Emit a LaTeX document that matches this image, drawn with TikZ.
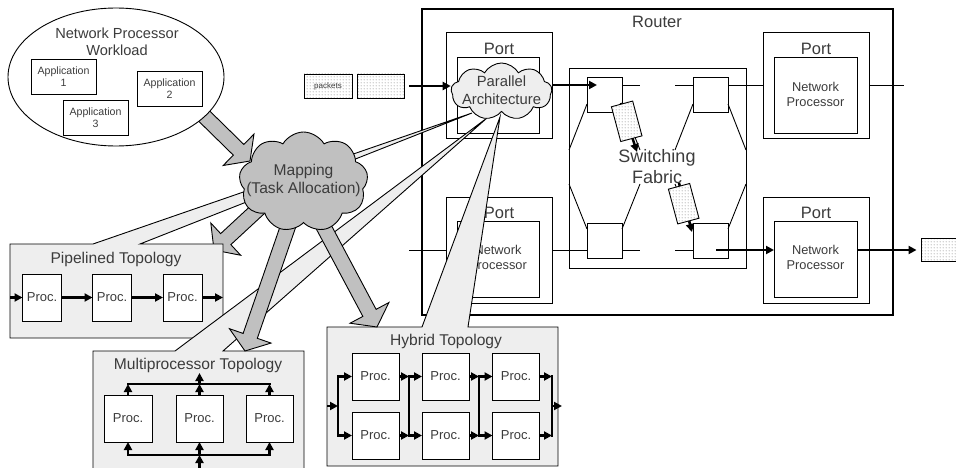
\documentclass[tikz,border=0pt]{standalone}
\usepackage{fontspec}
\setmainfont{Liberation Sans}
\usetikzlibrary{calc,shapes.symbols,shapes.geometric,arrows.meta,patterns}
\definecolor{txtc}{HTML}{3C3C3C}
\definecolor{arrgray}{HTML}{C0C0C0}
\definecolor{callgray}{HTML}{EEEEEE}
\newcommand\fsz[2]{\fontsize{#1}{#2}\selectfont}
\pgfdeclarepatternformonly{pdots}{\pgfpointorigin}{\pgfpoint{3pt}{3pt}}{\pgfpoint{3pt}{3pt}}{%
  \pgfpathcircle{\pgfpoint{1.5pt}{1.5pt}}{0.55pt}\pgfusepath{fill}}
\newcommand\blockarrow[2]{%
  \coordinate (bahb) at ($(#2)!16pt!(#1)$);
  \draw[blk] ($(#1)!7.5pt!90:(#2)$) -- ($(bahb)!7.5pt!90:(#2)$) -- ($(bahb)!22pt!90:(#2)$) -- (#2) -- ($(bahb)!22pt!-90:(#2)$) -- ($(bahb)!7.5pt!-90:(#2)$) -- ($(#1)!7.5pt!-90:(#2)$) -- cycle;}
\tikzset{
  ln/.style={line width=0.9pt},
  bx/.style 2 args={draw, fill=white, line width=0.9pt, minimum width=#1, minimum height=#2, inner sep=0pt, outer sep=0pt},
  lbl/.style={text=txtc, align=center, inner sep=0pt},
  thk/.style={line width=2.5pt, -{Triangle[length=8pt,width=8pt]}},
  bus/.style={line width=2.5pt, line cap=rect},
  blk/.style={draw=black, fill=arrgray, line width=0.9pt},
  callout/.style={draw=black, fill=callgray, line width=0.9pt},
  pkt/.style 2 args={draw, line width=0.9pt, preaction={fill=white}, pattern=pdots, pattern color=black!70, minimum width=#1, minimum height=#2, inner sep=0pt},
  cld/.style={cloud, cloud puffs=9, cloud puff arc=120, cloud ignores aspect, draw, line width=0.9pt, inner sep=0pt},
  proc/.style={bx={47pt}{47pt}, text=txtc, font=\fsz{13}{15}},
}
\begin{document}
\begin{tikzpicture}[x=1pt,y=-1pt]
\useasboundingbox (0,0) rectangle (956,468);
\clip (0,0) rectangle (956,468);

% ---------------- Router ----------------
\node[bx={471pt}{306pt}, line width=2.8pt] (router) at (657.5,162) {};
\node[lbl, font=\fsz{16.5}{19}] (routerlbl) at (657,22) {Router};

\node[bx={106pt}{106pt}] (pTLo) at (499,85) {};
\node[bx={82pt}{76pt}] (pTLi) at (498,95) {};
\node[lbl,font=\fsz{16.5}{19}] (pTLl) at (499,49) {Port};

\node[bx={106pt}{106pt}] (pBLo) at (499,250) {};
\node[bx={82pt}{76pt}] (pBLi) at (498,259) {};
\node[lbl,font=\fsz{16.5}{19}] (pBLl) at (499,213) {Port};
\node[lbl,font=\fsz{12.8}{15}] (pBLt) at (498,257.5) {Network\\Processor};

\node[bx={106pt}{106pt}] (pTRo) at (816,85) {};
\node[bx={83pt}{76pt}] (pTRi) at (815.5,95) {};
\node[lbl,font=\fsz{16.5}{19}] (pTRl) at (816,49) {Port};
\node[lbl,font=\fsz{12.8}{15}] (pTRt) at (815.5,94.5) {Network\\Processor};

\node[bx={106pt}{106pt}] (pBRo) at (816,250) {};
\node[bx={83pt}{76pt}] (pBRi) at (815.5,259) {};
\node[lbl,font=\fsz{16.5}{19}] (pBRl) at (816,213) {Port};
\node[lbl,font=\fsz{12.8}{15}] (pBRt) at (815.5,257.5) {Network\\Processor};

% ---------------- Switching fabric ----------------
\node[bx={177pt}{200pt}] (fab) at (657.5,168) {};
\node[bx={35pt}{35pt}] (sTL) at (604.5,94.5) {};
\node[bx={35pt}{35pt}] (sTR) at (710.5,94.5) {};
\node[bx={35pt}{35pt}] (sBL) at (604.5,240.5) {};
\node[bx={35pt}{35pt}] (sBR) at (710.5,240.5) {};

\coordinate (ytop) at (0,85);
\coordinate (ybot) at (0,250);
\draw[ln] (sTL.east |- ytop) -- ++(18,0);
\draw[ln] (sTR.west |- ytop) -- ++(-18,0);
\draw[ln] (sTR.east |- ytop) -- (pTRo.west |- ytop);
\draw[ln] (pTRo.east |- ytop) -- ++(35,0);
\draw[ln] (pBLo.west |- ybot) -- ++(-37,0);
\draw[ln] (pBLo.east |- ybot) -- (sBL.west |- ybot);
\draw[ln] (sBL.east |- ybot) -- ++(18,0);
\draw[ln] (sBR.west |- ybot) -- ++(-18,0);
\draw[ln] (587,104) -- (569,150) (569,184) -- (587,229)
          (622,104) -- (640,150) (622,229) -- (640,184)
          (693,104) -- (675,150) (728,104) -- (746,150)
          (746,184) -- (728,229) (693,229) -- (675,184);

\node[lbl,font=\fsz{18}{21}] (sflbl) at (657,167) {Switching\\Fabric};

\coordinate (fa1s) at (621,103); \coordinate (fa1e) at (637,152);
\draw[thk] (fa1s) -- (fa1e);
\node[pkt={22pt}{36pt}, rotate=15] (fp1) at (626.7,121.3) {};
\coordinate (fa2s) at (679,183); \coordinate (fa2e) at (692,232);
\draw[thk] (fa2s) -- (fa2e);
\node[pkt={22pt}{36pt}, rotate=15] (fp2) at (683.7,203.7) {};

\coordinate (brs) at (716,250);
\draw[thk] (brs) -- (pBRi.west |- ybot);
\node[pkt={41pt}{23pt}] (pout) at (941.5,249.5) {};
\draw[thk, shorten >=4pt] (pBRi.east |- ybot) -- (pout.west |- ybot);

% packets
\node[pkt={48pt}{24pt}, text=txtc, font=\fsz{8}{9}] (pk1) at (328,86) {packets};
\node[pkt={47pt}{24pt}] (pk2) at (380.5,86) {};

% ---------------- Workload ----------------
\coordinate (a1s) at (198,110); \coordinate (a1t) at (250,161);
\blockarrow{a1s}{a1t}
\node[ellipse, draw, fill=white, line width=0.9pt, minimum width=216pt, minimum height=138pt, inner sep=0pt] (wl) at (116,77) {};
\node[lbl,font=\fsz{14.6}{17}] (wlt) at (117,42) {Network Processor\\Workload};
\node[bx={65pt}{35pt}, lbl, draw, font=\fsz{10.6}{12}] (app1) at (63.5,76.5) {Application\\1};
\node[bx={65pt}{35pt}, lbl, draw, font=\fsz{10.6}{12}] (app2) at (169.5,88.5) {Application\\2};
\node[bx={65pt}{35pt}, lbl, draw, font=\fsz{10.6}{12}] (app3) at (95.5,117.5) {Application\\3};

% ---------------- Pipelined ----------------
\coordinate (a2s) at (268,200); \coordinate (a2t) at (214,250);
\blockarrow{a2s}{a2t}
\draw[callout] (10,244) -- (93,244) -- (472,113) -- (140,244) -- (223,244) -- (223,338) -- (10,338) -- cycle;
\node[lbl,font=\fsz{15.6}{18}] (pipet) at (116,259) {Pipelined Topology};
\node[proc, minimum width=39pt] (pp1) at (42,297.5) {Proc.};
\node[proc, minimum width=39pt] (pp2) at (112,297.5) {Proc.};
\node[proc, minimum width=39pt] (pp3) at (182.5,297.5) {Proc.};
\coordinate (pipeL) at (10,297.5);
\coordinate (pipeR) at (223,297.5);
\draw[thk] (pipeL) -- (pp1.west);
\draw[thk] (pp1.east) -- (pp2.west);
\draw[thk] (pp2.east) -- (pp3.west);
\draw[thk] (pp3.east) -- (pipeR);

% ---------------- Multiprocessor ----------------
\draw[callout] (93,351) -- (175,351) -- (487,118) -- (223,351) -- (304,351) -- (304,480) -- (93,480) -- cycle;
\node[lbl,font=\fsz{15.6}{18}] (mult) at (198,365) {Multiprocessor Topology};
\node[proc, minimum width=48pt] (mp1) at (128,418.5) {Proc.};
\node[proc] (mp2) at (199.5,418.5) {Proc.};
\node[proc] (mp3) at (269.5,418.5) {Proc.};
\coordinate (bt) at (0,384);
\coordinate (btop) at (0,373);
\coordinate (bb) at (0,455);
\coordinate (bbot) at (0,472);
\draw[bus] (mp1.north |- bt) -- (mp3.north |- bt);
\draw[bus] (mp1.south |- bb) -- (mp3.south |- bb);
\foreach \m in {mp1,mp2,mp3} {
  \draw[thk] (\m.north) -- (\m.north |- bt);
  \draw[thk] (\m.south |- bb) -- (\m.south);
}
\draw[thk] (mp2.north |- bt) -- (mp2.north |- btop);
\draw[thk] (mp2.south |- bbot) -- (mp2.south |- bb);

% ---------------- Hybrid ----------------
\draw[callout] (327,327) -- (422,327) -- (500,117) -- (468,327) -- (558,327) -- (558,466) -- (327,466) -- cycle;
\node[lbl,font=\fsz{15.6}{18}] (hybt) at (446,341) {Hybrid Topology};
\node[proc] (h11) at (375.5,376.5) {Proc.};
\node[proc] (h12) at (445.5,376.5) {Proc.};
\node[proc] (h13) at (516,376.5) {Proc.};
\node[proc] (h21) at (375.5,435.5) {Proc.};
\node[proc] (h22) at (445.5,435.5) {Proc.};
\node[proc] (h23) at (516,435.5) {Proc.};
\coordinate (b0t) at (338,376.5); \coordinate (b0b) at (338,435.5);
\coordinate (b1t) at (409,376.5); \coordinate (b1b) at (409,435.5);
\coordinate (b2t) at (479,376.5); \coordinate (b2b) at (479,435.5);
\coordinate (b3t) at (552,376.5); \coordinate (b3b) at (552,435.5);
\coordinate (hin) at (327,406); \coordinate (hinb) at (338,406);
\coordinate (hout) at (552,406); \coordinate (houte) at (562,406);
\draw[bus] (b0t) -- (b0b);
\draw[bus] (b1t) -- (b1b);
\draw[bus] (b2t) -- (b2b);
\draw[bus] (b3t) -- (b3b);
\draw[thk] (hin) -- (hinb);
\draw[thk] (b0t) -- (h11.west);
\draw[thk] (b0b) -- (h21.west);
\draw[thk] (h11.east) -- (b1t);
\draw[thk] (h21.east) -- (b1b);
\draw[thk] (b1t) -- (h12.west);
\draw[thk] (b1b) -- (h22.west);
\draw[thk] (h12.east) -- (b2t);
\draw[thk] (h22.east) -- (b2b);
\draw[thk] (b2t) -- (h13.west);
\draw[thk] (b2b) -- (h23.west);
\draw[thk] (h13.east) -- (b3t);
\draw[thk] (h23.east) -- (b3b);
\draw[thk] (hout) -- (houte);

% ---------------- Mapping arrows and cloud ----------------
\coordinate (a3s) at (292,215); \coordinate (a3t) at (245,351);
\blockarrow{a3s}{a3t}
\coordinate (a4s) at (320,220); \coordinate (a4t) at (377,327);
\blockarrow{a4s}{a4t}
\node[cld, fill=arrgray, minimum width=129pt, minimum height=100pt] (map) at (303.5,182) {};
\node[lbl,font=\fsz{15.6}{18}] (mapt) at (303.5,180) {Mapping\\(Task Allocation)};

% ---------------- Parallel architecture ----------------
\node[cld, fill=callgray, minimum width=101pt, minimum height=57pt] (pa) at (501.5,91.5) {};
\node[lbl,font=\fsz{14.8}{18}] (pat) at (501.5,90) {Parallel\\Architecture};
\draw[thk, shorten <=5pt] (pk2.east) -- (pa.west |- pk2.east);
\coordinate (sTLin) at (597,85);
\draw[thk] (pa.east |- sTLin) -- (sTLin);
\end{tikzpicture}
\end{document}
